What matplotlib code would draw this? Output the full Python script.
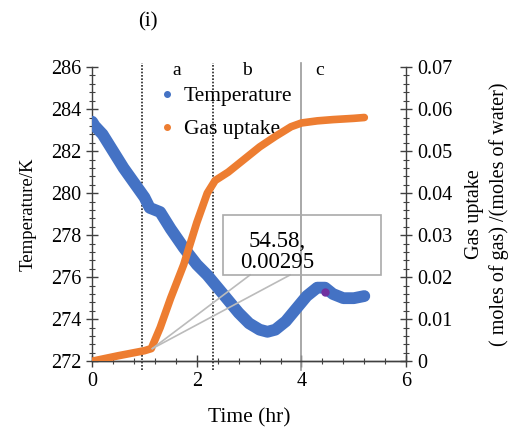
import matplotlib
matplotlib.use("Agg")
import matplotlib.pyplot as plt
from matplotlib.ticker import MultipleLocator, FixedLocator
from matplotlib.lines import Line2D
from matplotlib.patches import Rectangle

plt.rcParams["font.family"] = ["Liberation Serif", "DejaVu Serif"]

# temperature readings (hr, K)
temp_time = [0.0, 0.05, 0.2, 0.4, 0.6, 0.8, 1.0, 1.1, 1.3, 1.5, 1.75, 2.0, 2.2,
             2.4, 2.6, 2.8, 3.0, 3.2, 3.35, 3.5, 3.7, 3.9, 4.1, 4.3, 4.45,
             4.6, 4.8, 5.0, 5.2]
temp_vals = [283.4, 283.2, 282.8, 282.0, 281.2, 280.5, 279.8, 279.3, 279.1,
             278.3, 277.4, 276.6, 276.1, 275.5, 274.9, 274.3, 273.8, 273.5,
             273.4, 273.5, 273.9, 274.5, 275.1, 275.5, 275.5, 275.2, 275.0,
             275.0, 275.1]

# gas uptake readings (hr, mol gas / mol water)
gas_time = [0.0, 0.5, 1.0, 1.13, 1.3, 1.5, 1.75, 2.0, 2.2, 2.35, 2.6, 2.9,
            3.2, 3.5, 3.8, 4.0, 4.3, 4.6, 5.0, 5.2]
gas_vals = [0.0, 0.0013, 0.0025, 0.0030, 0.008, 0.015, 0.023, 0.033, 0.040,
            0.043, 0.045, 0.048, 0.051, 0.0535, 0.0558, 0.0567, 0.0572,
            0.0575, 0.0578, 0.058]

stage_lines = [0.96, 2.3]
stage_end = 4.0
stage_labels = ["a", "b", "c"]
stage_label_x = [1.61, 2.95, 4.35]
marked_point = (4.44, 275.3)
callout_point = (1.15, 0.003)
callout_text = "54.58,\n0.00295"

blue = "#4472C4"
orange = "#ED7D31"
spine_col = "#404040"

fig = plt.figure(figsize=(5.09, 4.30), dpi=100)
ax = fig.add_axes([0.181, 0.160, 0.617, 0.684])
ax2 = ax.twinx()

ax.plot(temp_time, temp_vals, color=blue, lw=8.5, solid_capstyle="round",
        solid_joinstyle="round", zorder=3)
ax.plot(*marked_point, "o", color="#7030A0", ms=5, zorder=4)
ax2.plot(gas_time, gas_vals, color=orange, lw=5.5, solid_capstyle="round",
         solid_joinstyle="round", zorder=3)

ax.set_xlim(0, 6)
ax.set_ylim(272, 286)
ax2.set_ylim(0, 0.07)

ax.xaxis.set_major_locator(MultipleLocator(2))
ax.xaxis.set_minor_locator(MultipleLocator(0.4))
ax.yaxis.set_major_locator(MultipleLocator(2))
ax.yaxis.set_minor_locator(MultipleLocator(0.4))
ax2.yaxis.set_major_locator(FixedLocator([0, 0.01, 0.02, 0.03, 0.04, 0.05, 0.06, 0.07]))
ax2.yaxis.set_minor_locator(MultipleLocator(0.002))
ax2.set_yticklabels(["0", "0.01", "0.02", "0.03", "0.04", "0.05", "0.06", "0.07"])

for a in (ax, ax2):
    a.spines["top"].set_visible(False)
    for s in a.spines.values():
        s.set_color(spine_col)
        s.set_linewidth(1.0)
    a.tick_params(which="major", direction="inout", length=8, width=1,
                  color=spine_col, labelsize=14.5, pad=4)
    a.tick_params(which="minor", direction="inout", length=5, width=0.8,
                  color=spine_col)
ax.spines["right"].set_visible(False)
ax2.spines["left"].set_visible(False)

ax.set_xlabel("Time (hr)", fontsize=15.5, labelpad=12)
ax.set_ylabel("Temperature/K", fontsize=13.5, labelpad=10)
ax2.set_ylabel("Gas uptake\n( moles of gas) /(moles of water)", fontsize=14.5,
               labelpad=9, linespacing=1.35)

for x in stage_lines:
    ax.axvline(x, ymin=-0.03, ymax=1.015, color="#222222", lw=1.2,
               ls=(0, (1, 1)), clip_on=False, zorder=2)
ax.axvline(stage_end, ymin=-0.03, ymax=1.015, color="#999999", lw=1.2,
           clip_on=False, zorder=2)
for lbl, x in zip(stage_labels, stage_label_x):
    ax.text(x, 285.85, lbl, ha="center", va="center", fontsize=14)

fig.text(0.29, 0.949, "(i)", ha="center", va="center", fontsize=15)

# callout box with wedge to the marked gas uptake point
box_l, box_b, box_w, box_h = 223 / 509, 1 - 275 / 430, 158 / 509, 60 / 430
fig.patches.append(Rectangle((box_l, box_b), box_w, box_h,
                             transform=fig.transFigure, fill=False,
                             edgecolor="#AAAAAA", lw=1.2, zorder=5))
fig.text(box_l + 54 / 509, box_b + box_h / 2 - 7 / 430, callout_text,
         ha="center", va="center", fontsize=16.5, linespacing=1.0)
px, py = fig.transFigure.inverted().transform(
    ax2.transData.transform(callout_point))
for bx in (250 / 509, 290 / 509):
    fig.lines.append(Line2D([bx, px], [box_b, py], transform=fig.transFigure,
                            color="#BBBBBB", lw=1.2))

handles = [Line2D([], [], ls="", marker="o", ms=4, color=blue),
           Line2D([], [], ls="", marker="o", ms=4, color=orange)]
ax.legend(handles, ["Temperature", "Gas uptake"], loc="upper left",
          bbox_to_anchor=(0.19, 0.965), frameon=False, fontsize=15.5,
          handlelength=0.6, handletextpad=0.5, labelspacing=0.6,
          borderaxespad=0)

fig.savefig("out.png", dpi=100)
